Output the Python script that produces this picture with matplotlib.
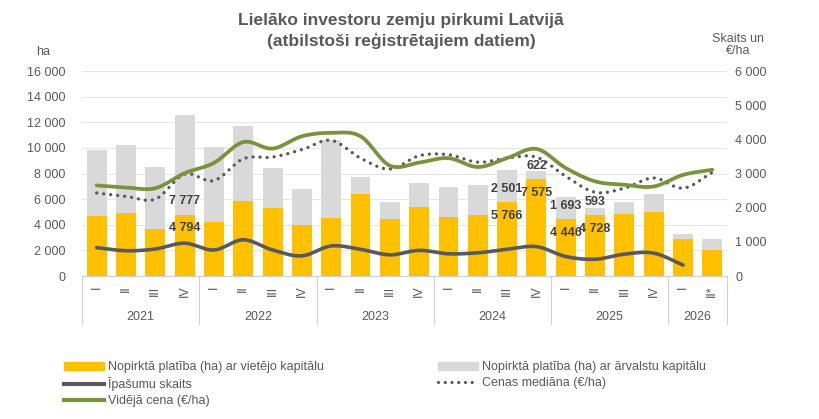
import numpy as np
import matplotlib
matplotlib.use("Agg")
import matplotlib.pyplot as plt
from matplotlib.lines import Line2D
from matplotlib.patches import Patch
from matplotlib.ticker import FuncFormatter, MultipleLocator

plt.rcParams['font.family'] = ['Liberation Sans', 'DejaVu Sans']

# ---- data ----
years = ["2021", "2022", "2023", "2024", "2025", "2026"]
quarters_per_year = [4, 4, 4, 4, 4, 2]
quarter_labels = ["I", "II", "III", "IV"] * 5 + ["I", "II*"]

local_ha = [4700, 4880, 3680, 4794, 4230, 5870, 5270, 3990, 4540, 6420, 4460, 5400,
            4570, 4800, 5766, 7575, 4446, 4728, 4830, 4960, 2900, 2040]
foreign_ha = [5100, 5380, 4860, 7777, 5800, 5800, 3190, 2820, 6060, 1330, 1340, 1880,
              2400, 2330, 2501, 622, 1693, 593, 970, 1460, 390, 860]
count = [830, 740, 790, 960, 760, 1060, 760, 590, 880, 780, 620, 750,
         650, 680, 780, 860, 570, 490, 640, 670, 320, None]
median_price = [2430, 2330, 2250, 2980, 2790, 3430, 3480, 3700, 3970, 3450, 3130, 3520,
                3550, 3330, 3450, 3480, 2920, 2450, 2570, 2870, 2570, 3030]
avg_price = [2650, 2590, 2570, 3010, 3310, 3920, 3730, 4090, 4190, 4090, 3230, 3320,
             3450, 3190, 3450, 3720, 3160, 2770, 2670, 2620, 2960, 3110]

labeled = {3: ("4 794", "7 777"), 14: ("5 766", "2 501"), 15: ("7 575", "622"),
           16: ("4 446", "1 693"), 17: ("4 728", "593")}
label_y = {3: (3750, 5850), 14: (4680, 6790), 15: (6480, 8590),
           16: (3360, 5460), 17: (3670, 5780)}

# ---- style ----
C_Y = "#FFC000"
C_G = "#D9D9D9"
C_D = "#595959"
C_GR = "#77933C"
C_T = "#595959"
FS = 9


def smooth(xs, ys, n=24):
    xs = np.asarray(xs, float)
    ys = np.asarray(ys, float)
    P = np.column_stack([xs, ys])
    P = np.vstack([2 * P[0] - P[1], P, 2 * P[-1] - P[-2]])
    out = []
    for i in range(1, len(P) - 2):
        p0, p1, p2, p3 = P[i - 1], P[i], P[i + 1], P[i + 2]
        t = np.linspace(0, 1, n, endpoint=False)[:, None]
        seg = 0.5 * ((2 * p1) + (-p0 + p2) * t + (2 * p0 - 5 * p1 + 4 * p2 - p3) * t ** 2
                     + (-p0 + 3 * p1 - 3 * p2 + p3) * t ** 3)
        out.append(seg)
    out.append(P[-2][None, :])
    out = np.vstack(out)
    return out[:, 0], out[:, 1]


fig = plt.figure(figsize=(8.19, 4.19), dpi=100)
ax = fig.add_axes([82 / 819, 1 - 276 / 419, 645 / 819, 205 / 419])
x = np.arange(len(local_ha))

ax.bar(x, local_ha, width=0.68, color=C_Y, zorder=2)
ax.bar(x, foreign_ha, width=0.68, bottom=local_ha, color=C_G, zorder=2)

ax.set_xlim(-0.5, len(x) - 0.5)
ax.set_ylim(0, 16000)
ax.yaxis.set_major_locator(MultipleLocator(2000))
fmt = FuncFormatter(lambda v, p: f"{int(v):,}".replace(",", " "))
ax.yaxis.set_major_formatter(fmt)
ax.grid(axis="y", color="#E6E6E6", lw=0.8, zorder=0)
ax.set_axisbelow(True)
for s in ["top", "right", "left"]:
    ax.spines[s].set_visible(False)
ax.spines["bottom"].set_color("#D0D0D0")
ax.tick_params(axis="y", length=0, labelsize=FS, labelcolor=C_T, pad=12)
ax.set_xticks(x)
ax.set_xticklabels(quarter_labels, rotation=90, fontsize=FS, color=C_T, va="top")
ax.tick_params(axis="x", length=0, pad=7)

# year labels and separators
pos = -0.5
for y, n in zip(years, quarters_per_year):
    ax.text(pos + n / 2, -0.2, y, transform=ax.get_xaxis_transform(),
            ha="center", va="center", fontsize=FS, color=C_T)
    pos += n
bounds = np.cumsum([0] + quarters_per_year) - 0.5
for b in bounds:
    ax.plot([b, b], [0, -0.235], transform=ax.get_xaxis_transform(), color="#D0D0D0",
            lw=0.8, clip_on=False)

# bar labels
for i, (a, b) in labeled.items():
    ya, yb = label_y[i]
    ax.text(i, ya, a, ha="center", va="center", fontsize=FS, fontweight="bold",
            color="#404040", zorder=5)
    ax.text(i, yb, b, ha="center", va="center", fontsize=FS, fontweight="bold",
            color="#404040", zorder=5)

ax2 = ax.twinx()
ax2.set_ylim(0, 6000)
ax2.yaxis.set_major_locator(MultipleLocator(1000))
ax2.yaxis.set_major_formatter(fmt)
for s in ["top", "right", "left", "bottom"]:
    ax2.spines[s].set_visible(False)
ax2.tick_params(axis="y", length=0, labelsize=FS, labelcolor=C_T, pad=6)

cx = [i for i, v in enumerate(count) if v is not None]
cy = [v for v in count if v is not None]
sx, sy = smooth(cx, cy)
ax2.plot(sx, sy, color=C_D, lw=2.6, solid_capstyle="round", zorder=3)
sx, sy = smooth(x, median_price)
ax2.plot(sx, sy, color=C_D, lw=2.4, linestyle=(0, (0.01, 2.1)), dash_capstyle="round", zorder=3)
sx, sy = smooth(x, avg_price)
ax2.plot(sx, sy, color=C_GR, lw=2.7, solid_capstyle="round", zorder=4)

# axis titles
fig.text(43 / 819, 1 - 52 / 419, "ha", fontsize=FS, color=C_T, ha="center", va="center")
fig.text(738 / 819, 1 - 45 / 419, "Skaits un\n€/ha", fontsize=FS, color=C_T,
         ha="center", va="center", linespacing=1.1)

fig.text(401 / 819, 1 - 31 / 419, "Lielāko investoru zemju pirkumi Latvijā\n(atbilstoši reģistrētajiem datiem)",
         fontsize=12.5, fontweight="bold", color=C_T, ha="center", va="center", linespacing=1.3)

# legends
h1 = [Patch(color=C_Y), Line2D([], [], color=C_D, lw=3), Line2D([], [], color=C_GR, lw=3)]
l1 = ["Nopirktā platība (ha) ar vietējo kapitālu", "Īpašumu skaits", "Vidējā cena (€/ha)"]
h2 = [Patch(color=C_G), Line2D([], [], color=C_D, lw=2.3, linestyle=(0, (0.01, 2.1)),
                               dash_capstyle="round")]
l2 = ["Nopirktā platība (ha) ar ārvalstu kapitālu", "Cenas mediāna (€/ha)"]
kw = dict(frameon=False, fontsize=FS, labelcolor=C_T, handlelength=3.2, handletextpad=0.3,
          labelspacing=0.33, borderaxespad=0, borderpad=0, handleheight=0.6)
fig.legend(h1, l1, loc="upper left", bbox_to_anchor=(64 / 819, 1 - 361 / 419), **kw)
fig.legend(h2, l2, loc="upper left", bbox_to_anchor=(438 / 819, 1 - 361 / 419), **kw)

fig.savefig("out.png", dpi=100)
